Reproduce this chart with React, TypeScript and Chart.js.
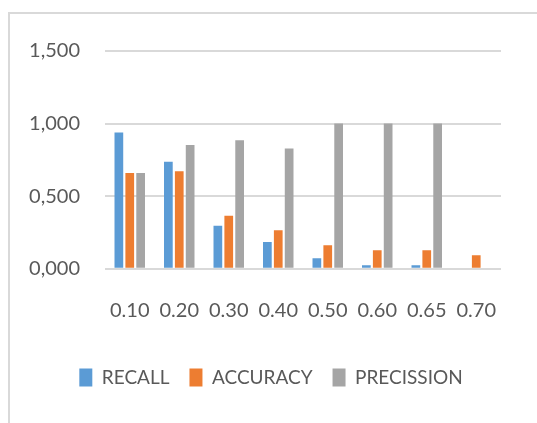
import React, { useEffect, useRef } from "react";
import { Chart, registerables } from "chart.js";

Chart.register(...registerables);

const categories = ["0.10", "0.20", "0.30", "0.40", "0.50", "0.60", "0.65", "0.70"];
const recall = [0.938, 0.738, 0.297, 0.185, 0.073, 0.025, 0.025, 0];
const accuracy = [0.66, 0.671, 0.366, 0.265, 0.162, 0.128, 0.128, 0.094];
const precission = [0.66, 0.852, 0.886, 0.829, 1.0, 1.0, 1.0, 0];
const seriesNames = ["RECALL", "ACCURACY", "PRECISSION"];
const seriesColors = ["#5B9BD5", "#ED7D31", "#A5A5A5"];

const FONT = "Lato, 'Liberation Sans', sans-serif";
const TEXT = "#595959";

export default function App() {
  const ref = useRef<HTMLCanvasElement | null>(null);
  useEffect(() => {
    if (!ref.current) return;
    const values = [recall, accuracy, precission];
    const chart = new Chart(ref.current, {
      type: "bar",
      data: {
        labels: categories,
        datasets: seriesNames.map((name, i) => ({
          label: name,
          data: values[i],
          backgroundColor: seriesColors[i],
          borderWidth: 0,
          categoryPercentage: 0.66,
          barPercentage: 0.8,
        })),
      },
      options: {
        responsive: false,
        animation: false,
        layout: { padding: { left: 17, right: 17, top: 33, bottom: 23 } },
        plugins: {
          tooltip: { enabled: false },
          legend: {
            position: "bottom",
            labels: {
              font: { family: FONT, size: 19 },
              color: TEXT,
              boxWidth: 13,
              boxHeight: 18,
              padding: 20,
            },
          },
        },
        scales: {
          x: {
            grid: {
              display: true,
              drawOnChartArea: false,
              drawTicks: true,
              tickLength: 27,
              color: "rgba(0,0,0,0)",
            },
            border: { display: false },
            title: {
              display: true,
              text: " ",
              font: { size: 1 },
              padding: { top: 0, bottom: 21 },
            },
            ticks: {
              font: { family: FONT, size: 20 },
              color: TEXT,
              padding: 3,
              maxRotation: 0,
              autoSkip: false,
            },
          },
          y: {
            min: 0,
            max: 1.5,
            afterFit: (scale: any) => {
              scale.width = 78;
            },
            grid: { color: "#D9D9D9", lineWidth: 2, drawTicks: false },
            border: { display: false },
            ticks: {
              stepSize: 0.5,
              padding: 25,
              font: { family: FONT, size: 20 },
              color: TEXT,
              callback: (v: any) => Number(v).toFixed(3).replace(".", ","),
            },
          },
          spacer: {
            type: "linear",
            axis: "y",
            position: "right",
            display: true,
            afterFit: (scale: any) => {
              scale.width = 14;
            },
            grid: { display: false },
            border: { display: false },
            ticks: { display: false },
          },
        },
      },
    });
    return () => chart.destroy();
  }, []);
  return (
    <div
      style={{
        position: "fixed",
        left: 8,
        top: 12,
        width: 560,
        height: 440,
        borderLeft: "2px solid #D9D9D9",
        borderTop: "2px solid #D9D9D9",
        background: "#fff",
      }}
    >
      <canvas ref={ref} width={522} height={406} style={{ display: "block" }} />
    </div>
  );
}
